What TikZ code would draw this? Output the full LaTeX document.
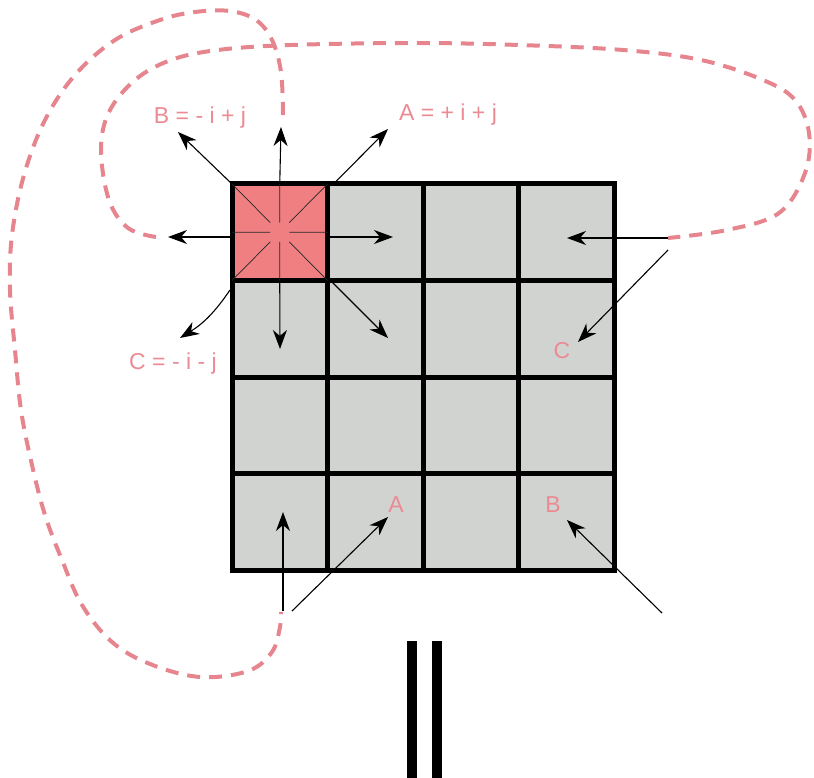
\documentclass[tikz,border=0pt]{standalone}
\usepackage{fontspec}
\setmainfont{Liberation Sans}
\usetikzlibrary{arrows.meta,calc}
\definecolor{pinkd}{HTML}{E6858E}
\definecolor{pinkt}{HTML}{EC8A93}
\definecolor{redcell}{HTML}{F07F82}
\definecolor{greycell}{HTML}{D1D3D1}
\tikzset{
  cellbox/.style={draw=black, line width=5pt, fill=greycell, minimum width=95.5pt, minimum height=96.5pt, inner sep=0pt, outer sep=0pt},
  hotcell/.style={cellbox, fill=redcell},
  arr/.style={draw=black, line width=1.1pt, -{Stealth[length=19pt,width=14pt,inset=6pt]}},
  star/.style={draw=black!85, line width=0.7pt},
  loopline/.style={draw=pinkd, line width=4pt, dash pattern=on 13pt off 9pt},
  lbl/.style={text=pinkt, font=\fontsize{23}{26}\selectfont, inner sep=0pt},
  bar/.style={fill=black, draw=none}
}
\begin{document}
\begin{tikzpicture}[x=1pt,y=-1pt]
\useasboundingbox (0,0) rectangle (814,778);
% dashed loops
\draw[loopline] plot[smooth, tension=0.6] coordinates {(283,115) (281,72) (272,40) (256,20) (230,11) (195,12) (160,20) (115,40) (75,75) (45,120) (24,175) (12,235) (10,290) (15,350) (21,410) (32,465) (45,515) (62,560) (82,605) (112,642) (150,664) (200,677) (248,671) (272,652) (280,627) (281,612)};
\draw[loopline] plot[smooth, tension=0.6] coordinates {(156,237) (128,228) (109,200) (101,150) (109,112) (135,80) (171,60) (218,50) (291,45) (415,43) (519,45) (623,50) (701,60) (763,80) (795,100) (809,133) (805,173) (779,213) (727,230) (668,238)};
% grid cells
\foreach \r/\y in {1/232.25,2/328.75,3/425.25,4/521.75}{
  \foreach \c/\x in {1/279.75,2/375.25,3/470.75,4/566.25}{
    \node[cellbox] (c\r\c) at (\x,\y) {};
  }
}
\node[hotcell] (r) at (279.75,232.25) {};
% star inside red cell
\coordinate (rc) at (r.center);
\foreach \a in {r.north,r.south,r.east,r.west,r.north east,r.north west,r.south east,r.south west}{
  \draw[star] (\a) -- ($(\a)!0.8!(rc)$);
}
% labels
\node[lbl] (Blab) at (200,118) {B = - i + j};
\node[lbl] (Alab) at (448,115) {A = + i + j};
\node[lbl] (Clab) at (173,364) {C = - i - j};
\node[lbl] (Cc) at (562,351) {C};
\node[lbl] (Ac) at (396,505) {A};
\node[lbl] (Bc) at (553,505) {B};
% free ends
\coordinate (tu) at (281,127);
\coordinate (tb) at (178,132);
\coordinate (ta) at (388,129);
\coordinate (tl) at (168,237);
\coordinate (tr) at (393,237);
\coordinate (td) at (280,349);
\coordinate (tdr) at (388,338);
\coordinate (sc) at (230,290);
\coordinate (tcl) at (180,338);
\coordinate (e1) at (668,238);
\coordinate (f1) at (567,238);
\coordinate (e2) at (668,250);
\coordinate (f2) at (578,342);
\coordinate (e3) at (283,611);
\coordinate (f3) at (283,512);
\coordinate (e4) at (292,611);
\coordinate (f4) at (388,517);
\coordinate (e5) at (662,613);
\coordinate (f5) at (567,520);
% arrows from the red cell
\draw[arr] (r.north) -- (tu);
\draw[arr] (r.north west) -- (tb);
\draw[arr] ([xshift=6pt]r.north east) -- (ta);
\draw[arr] (tl -| r.west) -- (tl);
\draw[arr] (tr -| r.east) -- (tr);
\draw[arr] (r.south) -- (td);
\draw[arr] ([xshift=3pt]r.south east) -- (tdr);
\draw[arr] (sc) to[bend left=12] (tcl);
% arrows from outside
\draw[arr] (e1) -- (f1);
\draw[arr] (e2) -- (f2);
\draw[arr] (e3) -- (f3);
\draw[arr] (e4) -- (f4);
\draw[arr] (e5) -- (f5);
% double bar
\fill[bar] (407,641) rectangle (417,778);
\fill[bar] (432,641) rectangle (442,778);
\end{tikzpicture}
\end{document}
